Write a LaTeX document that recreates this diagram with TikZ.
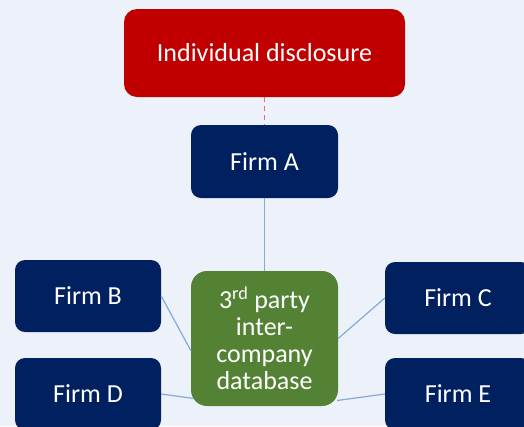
\documentclass[tikz,border=0pt]{standalone}
\usepackage{fontspec}
\setmainfont{Carlito}
\definecolor{bg}{HTML}{EDF1FA}
\definecolor{navy}{HTML}{002060}
\definecolor{darkred}{HTML}{C00000}
\definecolor{leaf}{HTML}{548235}
\definecolor{link}{HTML}{86AAD6}
\definecolor{dashred}{HTML}{E0707A}
\tikzset{
  box/.style={rectangle, rounded corners=10pt, text=white, font=\fontsize{26}{27}\selectfont, align=center, inner sep=0pt},
  firm/.style={box, fill=navy, minimum width=146pt, minimum height=72pt},
  conn/.style={draw=link, line width=1.2pt},
}
\begin{document}
\begin{tikzpicture}[x=1pt,y=-1pt]
\clip (0,0) rectangle (524,426);
\fill[bg] (0,0) rectangle (524,426);
\node[box, fill=darkred, minimum width=281pt, minimum height=88pt, rounded corners=13pt] (disc) at (264.5,53) {Individual disclosure};
\node[firm, minimum width=147pt, minimum height=73pt] (a) at (264.5,161.5) {Firm A};
\node[firm] (b) at (88,296) {Firm B};
\node[firm] (c) at (458,298) {Firm C};
\node[firm] (d) at (88,394) {Firm D};
\node[firm] (e) at (458,394) {Firm E};
\node[box, fill=leaf, minimum width=147pt, minimum height=135pt, rounded corners=16pt] (db) at (264.5,338.5) {3\textsuperscript{rd} party\\inter-\\company\\database};
\draw[draw=dashred, line width=1.4pt, dash pattern=on 5pt off 4pt] (disc.south) -- (a.north);
\draw[conn] (a.south) -- (db.north);
\draw[conn] (b.east) -- ([yshift=-12pt]db.west);
\draw[conn] (c.west) -- (db.east);
\draw[conn] (d.east) -- ([xshift=3pt,yshift=-60pt]db.west);
\draw[conn] (e.west) -- ([xshift=-1pt,yshift=-62pt]db.east);
\end{tikzpicture}
\end{document}
